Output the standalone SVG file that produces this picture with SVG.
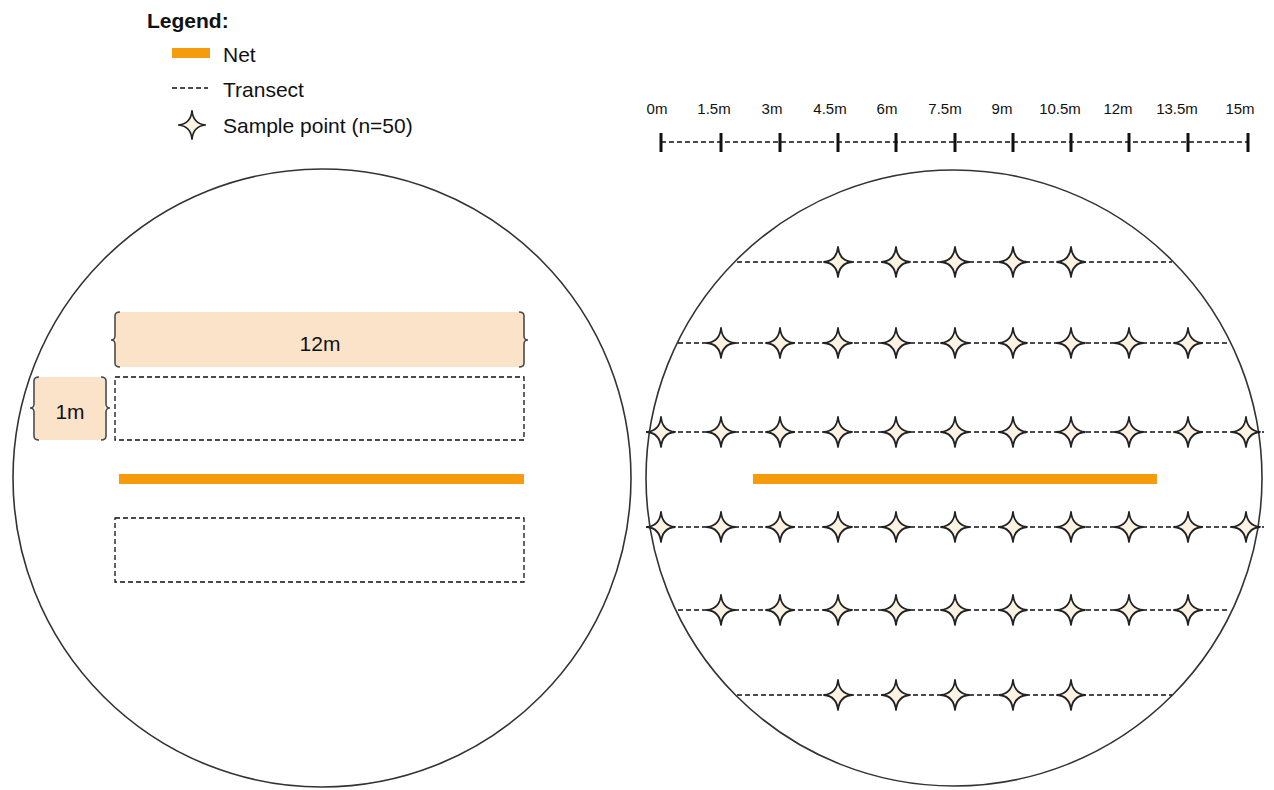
<svg xmlns="http://www.w3.org/2000/svg" width="1274" height="790" viewBox="0 0 1274 790">
<style>
  text { font-family: "Liberation Sans", Arial, sans-serif; fill: #111; }
  .circ { fill: none; stroke: #333; stroke-width: 1.6; }
  .net { stroke: #f59b0c; stroke-width: 10; }
  .tr { stroke: #111; stroke-width: 1.3; stroke-dasharray: 5 3; fill: none; }
  .box { fill: #fbe3c9; stroke: none; }
  .brace { fill: none; stroke: #4a4a4a; stroke-width: 1.6; }
  .tick { stroke: #111; stroke-width: 3; }
  .lab { font-size: 15px; text-anchor: middle; }
  .big { font-size: 21px; }
</style>
<defs>
  <path id="star" d="M0,-15 Q1.3,-1.3 14,0 Q1.3,1.3 0,15 Q-1.3,1.3 -14,0 Q-1.3,-1.3 0,-15 Z" fill="#fdf3e3" stroke="#222" stroke-width="1.8" stroke-linejoin="round"/>
</defs>
<rect width="1274" height="790" fill="#fff"/>

<g id="legend">
  <text x="147" y="28" class="big" font-weight="bold">Legend:</text>
  <line x1="172" y1="53" x2="210" y2="53" class="net" stroke-width="9"/>
  <text x="223" y="62" class="big">Net</text>
  <line x1="172" y1="88" x2="208" y2="88" class="tr" stroke-dasharray="3 2" stroke-width="1"/>
  <text x="223" y="97" class="big">Transect</text>
  <use href="#star" transform="translate(192,125) scale(0.95,0.95)"/>
  <text x="223" y="133" class="big">Sample point (n=50)</text>
</g>

<g id="scale">
  <line x1="661" y1="142" x2="1248" y2="142" class="tr" stroke-dasharray="4 2" stroke-width="1.1"/>
  <g class="tick">
    <line x1="661" y1="133" x2="661" y2="152"/>
    <line x1="721" y1="133" x2="721" y2="152"/>
    <line x1="780" y1="133" x2="780" y2="152"/>
    <line x1="838" y1="133" x2="838" y2="152"/>
    <line x1="896" y1="133" x2="896" y2="152"/>
    <line x1="955" y1="133" x2="955" y2="152"/>
    <line x1="1013" y1="133" x2="1013" y2="152"/>
    <line x1="1071" y1="133" x2="1071" y2="152"/>
    <line x1="1129" y1="133" x2="1129" y2="152"/>
    <line x1="1188" y1="133" x2="1188" y2="152"/>
    <line x1="1248" y1="133" x2="1248" y2="152"/>
  </g>
  <text x="657" y="114" class="lab">0m</text>
  <text x="714" y="114" class="lab">1.5m</text>
  <text x="772" y="114" class="lab">3m</text>
  <text x="830" y="114" class="lab">4.5m</text>
  <text x="887" y="114" class="lab">6m</text>
  <text x="945" y="114" class="lab">7.5m</text>
  <text x="1002" y="114" class="lab">9m</text>
  <text x="1060" y="114" class="lab">10.5m</text>
  <text x="1118" y="114" class="lab">12m</text>
  <text x="1177" y="114" class="lab">13.5m</text>
  <text x="1240" y="114" class="lab">15m</text>
</g>

<g id="left-plot">
  <circle cx="322" cy="478" r="309" class="circ"/>
  <g id="dim-12m">
    <rect x="116" y="312" width="408" height="55" class="box"/>
    <path class="brace" d="M120,312 Q115,312 115,316 L115,336 Q115,340 111,340 Q115,340 115,344 L115,363 Q115,367 120,367"/>
    <path class="brace" d="M519,312 Q524,312 524,316 L524,336 Q524,340 528,340 Q524,340 524,344 L524,363 Q524,367 519,367"/>
    <text x="320" y="351" class="big" text-anchor="middle" font-size="22">12m</text>
  </g>
  <g id="dim-1m">
    <rect x="35" y="377" width="70" height="63" class="box"/>
    <path class="brace" d="M39,377 Q34,377 34,381 L34,404 Q34,408 30,408 Q34,408 34,412 L34,436 Q34,440 39,440"/>
    <path class="brace" d="M101,377 Q106,377 106,381 L106,404 Q106,408 110,408 Q106,408 106,412 L106,436 Q106,440 101,440"/>
    <text x="70" y="419" class="big" text-anchor="middle" font-size="22">1m</text>
  </g>
  <rect x="115" y="377" width="409" height="63" class="tr"/>
  <line x1="119" y1="479" x2="524" y2="479" class="net"/>
  <rect x="115" y="518" width="409" height="64" class="tr"/>
</g>

<g id="right-plot">
  <circle cx="954" cy="478" r="308" class="circ"/>
  <line x1="753" y1="479" x2="1157" y2="479" class="net"/>
  <g id="transects">
    <line x1="737" y1="262" x2="1172" y2="262" class="tr"/>
    <line x1="678" y1="343" x2="1228" y2="343" class="tr"/>
    <line x1="646" y1="432" x2="1264" y2="432" class="tr"/>
    <line x1="646" y1="527" x2="1264" y2="527" class="tr"/>
    <line x1="678" y1="610" x2="1228" y2="610" class="tr"/>
    <line x1="737" y1="695" x2="1172" y2="695" class="tr"/>
  </g>
  <g id="points">
    <use href="#star" x="838" y="262"/><use href="#star" x="896" y="262"/><use href="#star" x="955" y="262"/><use href="#star" x="1013" y="262"/><use href="#star" x="1071" y="262"/>
    <use href="#star" x="721" y="343"/><use href="#star" x="780" y="343"/><use href="#star" x="838" y="343"/><use href="#star" x="896" y="343"/><use href="#star" x="955" y="343"/><use href="#star" x="1013" y="343"/><use href="#star" x="1071" y="343"/><use href="#star" x="1129" y="343"/><use href="#star" x="1188" y="343"/>
    <use href="#star" x="661" y="432"/><use href="#star" x="721" y="432"/><use href="#star" x="780" y="432"/><use href="#star" x="838" y="432"/><use href="#star" x="896" y="432"/><use href="#star" x="955" y="432"/><use href="#star" x="1013" y="432"/><use href="#star" x="1071" y="432"/><use href="#star" x="1129" y="432"/><use href="#star" x="1188" y="432"/><use href="#star" x="1246" y="432"/>
    <use href="#star" x="661" y="527"/><use href="#star" x="721" y="527"/><use href="#star" x="780" y="527"/><use href="#star" x="838" y="527"/><use href="#star" x="896" y="527"/><use href="#star" x="955" y="527"/><use href="#star" x="1013" y="527"/><use href="#star" x="1071" y="527"/><use href="#star" x="1129" y="527"/><use href="#star" x="1188" y="527"/><use href="#star" x="1246" y="527"/>
    <use href="#star" x="721" y="610"/><use href="#star" x="780" y="610"/><use href="#star" x="838" y="610"/><use href="#star" x="896" y="610"/><use href="#star" x="955" y="610"/><use href="#star" x="1013" y="610"/><use href="#star" x="1071" y="610"/><use href="#star" x="1129" y="610"/><use href="#star" x="1188" y="610"/>
    <use href="#star" x="838" y="695"/><use href="#star" x="896" y="695"/><use href="#star" x="955" y="695"/><use href="#star" x="1013" y="695"/><use href="#star" x="1071" y="695"/>
  </g>
</g>
</svg>
